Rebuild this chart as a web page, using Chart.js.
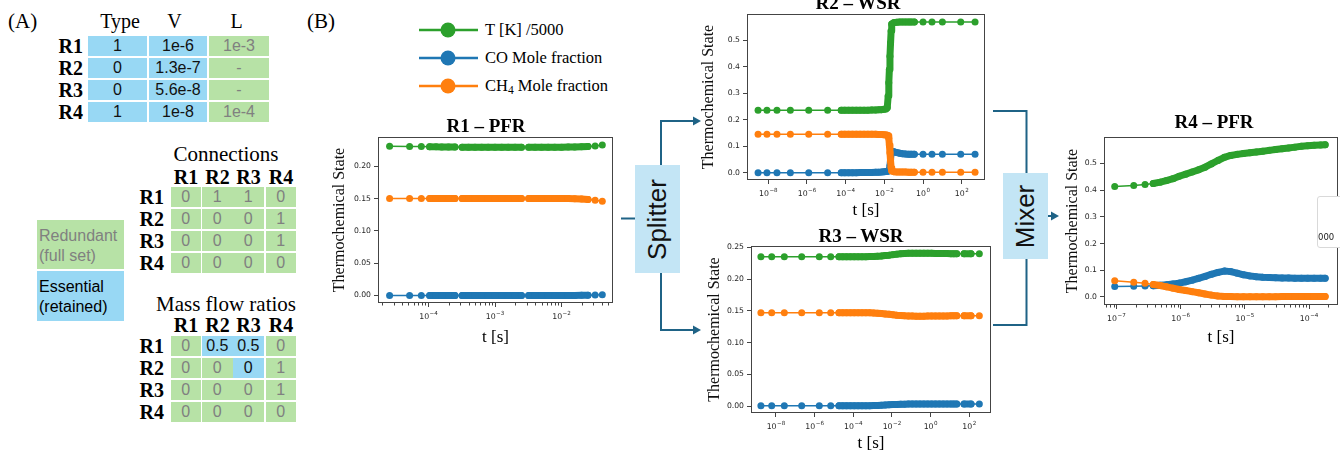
<!DOCTYPE html>
<html lang="en">
<head>
<meta charset="utf-8">
<title>Reactor network</title>
<script src="https://cdn.jsdelivr.net/npm/chart.js@4.4.1/dist/chart.umd.min.js"></script>
<style>
  html, body { margin: 0; padding: 0; background: #fff; }
  body { position: relative; width: 1340px; height: 455px; overflow: hidden; font-family: 'Liberation Sans', Arial, sans-serif; }
  .t  { position: absolute; white-space: nowrap; line-height: 1; transform: translate(-50%, -50%); }
  .tr { position: absolute; white-space: nowrap; line-height: 1; transform: translate(-100%, -50%); }
  .serif { font-family: 'Liberation Serif', 'Times New Roman', serif; color: #000; }
  .bold { font-weight: bold; }
  .cell { position: absolute; display: flex; align-items: center; justify-content: center; font-size: 16px; line-height: 1; }
  .ess { background: #98d8f4; color: #111; }
  .red { background: #b7e2a6; color: #808080; }
  .key { position: absolute; left: 37px; width: 87px; padding: 6px 0 0 2px; font-size: 16px; line-height: 20px; box-sizing: border-box; }
  .unit { position: absolute; background: #c3e5f5; display: flex; align-items: center; justify-content: center; }
  .unit span { transform: rotate(-90deg); font-size: 26px; color: #111; white-space: nowrap; }
  canvas { position: absolute; }
  sub { font-size: 0.7em; vertical-align: -0.3em; line-height: 0; }
</style>
</head>
<body>
<svg id="flow" width="1340" height="455" style="position:absolute;left:0;top:0"></svg>
<script>
// ── Panel A: reactor table data ───────────────────
const reactors = ['R1', 'R2', 'R3', 'R4'];
const reactorParams = ['Type', 'V', 'L'];
const reactorType = ['1', '0', '0', '1'];
const reactorVolume = ['1e-6', '1.3e-7', '5.6e-8', '1e-8'];
const reactorLength = ['1e-3', '-', '-', '1e-4'];
const connections = [[0, 1, 1, 0], [0, 0, 0, 1], [0, 0, 0, 1], [0, 0, 0, 0]];
const massFlowRatios = [['0', '0.5', '0.5', '0'], ['0', '0', '0', '1'], ['0', '0', '0', '1'], ['0', '0', '0', '0']];
const massFlowRetained = [[0, 1, 1, 0], [0, 0, 1, 0], [0, 0, 0, 0], [0, 0, 0, 0]];

// ── Panel B: series ───────────────────────────────
const seriesNames = ['T [K] /5000', 'CO Mole fraction', 'CH₄ Mole fraction'];

const r1Time = [2.6e-5, 5.2e-5, 7.8e-5, 1.04e-4, 1.3e-4, 1.58e-4, 2.0e-4, 2.5e-4, 3.2e-4, 4.0e-4,
                5.0e-4, 6.3e-4, 7.9e-4, 1.0e-3, 1.26e-3, 1.58e-3, 2.0e-3, 2.5e-3, 3.2e-3, 4.0e-3,
                5.0e-3, 6.3e-3, 7.9e-3, 1.0e-2, 1.26e-2, 1.58e-2, 2.0e-2, 2.5e-2, 3.2e-2, 4.1e-2];
const r1Temp = [0.2312, 0.2309, 0.2306, 0.2304, 0.2302, 0.2301, 0.2300, 0.2299, 0.2298, 0.2298,
                0.2297, 0.2297, 0.2297, 0.2297, 0.2297, 0.2297, 0.2297, 0.2297, 0.2297, 0.2297,
                0.2297, 0.2298, 0.2298, 0.2298, 0.2299, 0.2300, 0.2303, 0.2308, 0.2316, 0.2330];
const r1CO = [0, 0, 0, 0, 0, 0, 0, 0, 0, 0,
              0, 0, 0, 0, 0, 0, 0, 0, 0, 0,
              0, 0, 0, 0, 0, 0.0001, 0.0002, 0.0004, 0.0006, 0.0009];
const r1CH4 = [0.1503, 0.1503, 0.1503, 0.1503, 0.1503, 0.1503, 0.1503, 0.1503, 0.1503, 0.1503,
               0.1503, 0.1503, 0.1503, 0.1503, 0.1503, 0.1503, 0.1503, 0.1503, 0.1503, 0.1503,
               0.1503, 0.1502, 0.1502, 0.1502, 0.1501, 0.1500, 0.1495, 0.1487, 0.1476, 0.1460];
const r1XTicks = [1e-4, 1e-3, 1e-2];
const r1YTicks = [0, 0.05, 0.10, 0.15, 0.20];

const r2Time = [2.95e-9, 8.5e-9, 2.8e-8, 1.38e-7, 1.23e-6, 1.17e-5, 5.9e-5, 8.9e-5, 1.41e-4, 2.24e-4,
                3.55e-4, 5.6e-4, 8.9e-4, 1.41e-3, 2.24e-3, 3.55e-3, 5.0e-3, 7.1e-3, 9.5e-3, 1.2e-2,
                1.41e-2, 1.58e-2, 1.7e-2, 1.82e-2, 1.95e-2, 2.09e-2, 2.24e-2, 2.4e-2, 3.16e-2, 4.47e-2,
                6.3e-2, 8.9e-2, 0.126, 0.178, 0.24, 0.355, 1.0, 2.9, 10, 89, 490];
const r2Temp = [0.2357, 0.2357, 0.2357, 0.2357, 0.2357, 0.2357, 0.2357, 0.2357, 0.2357, 0.2358,
                0.2358, 0.2359, 0.2360, 0.2362, 0.2365, 0.2369, 0.2374, 0.2382, 0.2393, 0.2410,
                0.2450, 0.290, 0.340, 0.390, 0.440, 0.490, 0.535, 0.562, 0.567, 0.5685,
                0.569, 0.569, 0.569, 0.569, 0.569, 0.569, 0.569, 0.569, 0.569, 0.569, 0.569];
const r2CO = [0, 0, 0, 0, 0, 0, 0.0001, 0.0001, 0.0001, 0.0002,
              0.0002, 0.0003, 0.0005, 0.0007, 0.0010, 0.0014, 0.0019, 0.0026, 0.0034, 0.0043,
              0.0052, 0.0060, 0.0080, 0.0120, 0.0250, 0.0500, 0.0750, 0.0810, 0.0790, 0.0760,
              0.0735, 0.0718, 0.0707, 0.0700, 0.0697, 0.0696, 0.0695, 0.0695, 0.0695, 0.0695, 0.0695];
const r2CH4 = [0.1455, 0.1455, 0.1455, 0.1455, 0.1455, 0.1455, 0.1455, 0.1455, 0.1455, 0.1455,
               0.1454, 0.1454, 0.1453, 0.1452, 0.1450, 0.1448, 0.1445, 0.1441, 0.1436, 0.1428,
               0.1418, 0.1400, 0.1300, 0.1050, 0.0750, 0.0450, 0.0200, 0.0070, 0.0035, 0.0028,
               0.0025, 0.0023, 0.0022, 0.0021, 0.0021, 0.0020, 0.0020, 0.0020, 0.0020, 0.0020, 0.0020];
const r2XTicks = [1e-8, 1e-6, 1e-4, 1e-2, 1, 100];
const r2YTicks = [0, 0.1, 0.2, 0.3, 0.4, 0.5];

const r3Time = [1.66e-9, 6.0e-9, 2.7e-8, 2.14e-7, 1.74e-6, 6.8e-6, 1.82e-5, 2.82e-5, 4.47e-5, 7.1e-5,
                1.12e-4, 1.78e-4, 2.82e-4, 4.47e-4, 7.1e-4, 1.12e-3, 1.78e-3, 2.82e-3, 4.47e-3, 7.1e-3,
                1.12e-2, 1.78e-2, 2.82e-2, 4.47e-2, 7.1e-2, 0.112, 0.178, 0.282, 0.447, 0.708,
                1.12, 1.78, 2.82, 4.47, 7.08, 11.2, 15.8, 22.4, 53.7, 123, 331];
const r3Temp = [0.2351, 0.2351, 0.2351, 0.2351, 0.2351, 0.2351, 0.2351, 0.2351, 0.2351, 0.2351,
                0.2351, 0.2351, 0.2351, 0.2351, 0.2353, 0.2356, 0.2360, 0.2364, 0.2370, 0.2376,
                0.2384, 0.2392, 0.2398, 0.2402, 0.2404, 0.2405, 0.2405, 0.2405, 0.2405, 0.2405,
                0.2404, 0.2403, 0.2402, 0.2401, 0.2400, 0.2399, 0.2398, 0.2398, 0.2397, 0.2397, 0.2397];
const r3CO = [0.0005, 0.0005, 0.0005, 0.0005, 0.0005, 0.0005, 0.0005, 0.0005, 0.0005, 0.0005,
              0.0005, 0.0005, 0.0005, 0.0005, 0.0006, 0.0008, 0.0010, 0.0013, 0.0016, 0.0019,
              0.0022, 0.0025, 0.0027, 0.0029, 0.0030, 0.0030, 0.0030, 0.0030, 0.0030, 0.0030,
              0.0030, 0.0030, 0.0030, 0.0030, 0.0030, 0.0030, 0.0030, 0.0030, 0.0030, 0.0030, 0.0030];
const r3CH4 = [0.1470, 0.1470, 0.1470, 0.1470, 0.1470, 0.1470, 0.1470, 0.1470, 0.1470, 0.1470,
               0.1470, 0.1470, 0.1470, 0.1470, 0.1468, 0.1465, 0.1461, 0.1456, 0.1450, 0.1444,
               0.1438, 0.1431, 0.1426, 0.1421, 0.1418, 0.1416, 0.1415, 0.1415, 0.1415, 0.1416,
               0.1416, 0.1417, 0.1418, 0.1419, 0.1419, 0.1420, 0.1420, 0.1421, 0.1421, 0.1421, 0.1421];
const r3XTicks = [1e-8, 1e-6, 1e-4, 1e-2, 1, 100];
const r3YTicks = [0, 0.05, 0.10, 0.15, 0.20, 0.25];

const r4Time = [9.4e-8, 1.86e-7, 2.79e-7, 3.75e-7, 4.8e-7, 6.0e-7, 7.6e-7, 9.5e-7, 1.2e-6, 1.51e-6,
                1.9e-6, 2.4e-6, 3.0e-6, 3.8e-6, 4.8e-6, 6.0e-6, 7.6e-6, 9.5e-6, 1.2e-5, 1.51e-5,
                1.9e-5, 2.4e-5, 3.0e-5, 3.8e-5, 4.8e-5, 6.0e-5, 7.6e-5, 9.5e-5, 1.2e-4, 1.51e-4, 1.78e-4];
const r4Temp = [0.414, 0.417, 0.421, 0.425, 0.430, 0.436, 0.443, 0.452, 0.460, 0.468,
                0.476, 0.486, 0.498, 0.511, 0.523, 0.530, 0.534, 0.537, 0.540, 0.543,
                0.546, 0.549, 0.552, 0.555, 0.558, 0.561, 0.564, 0.566, 0.568, 0.569, 0.570];
const r4CO = [0.039, 0.040, 0.041, 0.042, 0.044, 0.046, 0.049, 0.052, 0.057, 0.063,
              0.070, 0.077, 0.085, 0.092, 0.097, 0.095, 0.089, 0.083, 0.079, 0.076,
              0.074, 0.073, 0.072, 0.071, 0.071, 0.0705, 0.070, 0.070, 0.070, 0.070, 0.070];
const r4CH4 = [0.061, 0.055, 0.051, 0.047, 0.043, 0.038, 0.033, 0.028, 0.024, 0.020,
               0.016, 0.011, 0.007, 0.004, 0.002, 0.0015, 0.0012, 0.0011, 0.0011, 0.0011,
               0.0012, 0.0012, 0.0013, 0.0014, 0.0015, 0.0016, 0.0017, 0.0018, 0.0019, 0.0020, 0.0020];
const r4XTicks = [1e-7, 1e-6, 1e-5, 1e-4];
const r4YTicks = [0, 0.1, 0.2, 0.3, 0.4, 0.5];

// ── Styling ───────────────────────────────────────
const COLORS = {
    temp: '#2ca02c',
    co: '#1f77b4',
    ch4: '#ff7f0e',
    frame: '#444444',
    tick: '#262626',
    flow: '#1f6386'
};
const SERIF = "'Liberation Serif', 'Times New Roman', serif";
const TICK_FONT = "'DejaVu Sans', sans-serif";

function exponentOf(v) {
    return String(Math.round(Math.log10(v)));
}

// ── Small DOM helpers ─────────────────────────────
function addText(x, y, html, cls, css) {
    const d = document.createElement('div');
    d.className = cls;
    d.style.cssText = `left:${x}px;top:${y}px;` + (css || '');
    d.innerHTML = html;
    document.body.appendChild(d);
    return d;
}
function addCell(x, y, w, h, text, essential) {
    const d = document.createElement('div');
    d.className = 'cell ' + (essential ? 'ess' : 'red');
    d.style.cssText = `left:${x}px;top:${y}px;width:${w}px;height:${h}px;`;
    d.textContent = text;
    document.body.appendChild(d);
}

// ── Panel A ───────────────────────────────────────
addText(8, 21, '(A)', 'serif', 'position:absolute;font-size:21px;line-height:1;transform:translateY(-50%);');
addText(307, 21, '(B)', 'serif', 'position:absolute;font-size:21px;line-height:1;transform:translateY(-50%);');

const paramCols = [88, 149, 209];
const paramHeadX = [120, 174.5, 236.5];
const paramRows = [36, 58, 80, 102];
reactorParams.forEach((p, j) => addText(paramHeadX[j], 21, p, 't serif', 'font-size:20px;'));
reactors.forEach((r, i) => {
    addText(83, paramRows[i] + 10, r, 'tr serif bold', 'font-size:20px;');
    addCell(paramCols[0], paramRows[i], 59, 20, reactorType[i], true);
    addCell(paramCols[1], paramRows[i], 58, 20, reactorVolume[i], true);
    addCell(paramCols[2], paramRows[i], 60, 20, reactorLength[i], false);
});

const matCols = [170.5, 202, 233, 265.5];
function drawMatrix(title, titleY, headY, rowsTop, values, retained) {
    addText(226, titleY, title, 't serif', 'font-size:21px;');
    reactors.forEach((r, j) => addText(matCols[j] + 15.5, headY, r, 't serif bold', 'font-size:20px;'));
    reactors.forEach((r, i) => {
        addText(164, rowsTop + i * 22 + 10, r, 'tr serif bold', 'font-size:20px;');
        reactors.forEach((c, j) => addCell(matCols[j], rowsTop + i * 22, 30.5, 20, String(values[i][j]), retained[i][j] === 1));
    });
}
drawMatrix('Connections', 154, 177, 187, connections, [[0,0,0,0],[0,0,0,0],[0,0,0,0],[0,0,0,0]]);
drawMatrix('Mass flow ratios', 303.5, 325, 336, massFlowRatios, massFlowRetained);

addText(0, 0, 'Redundant<br>(full set)', 'key red', 'left:37px;top:220px;height:49px;');
addText(0, 0, 'Essential<br>(retained)', 'key ess', 'left:37px;top:271px;height:50px;color:#000;');

// ── Panel B: figure legend ────────────────────────
const seriesColors = [COLORS.temp, COLORS.co, COLORS.ch4];
const legendRowY = [30, 58, 86];
seriesNames.forEach((name, i) => {
    const c = seriesColors[i];
    const row = document.createElement('div');
    row.style.cssText = `position:absolute;left:419px;top:${legendRowY[i] - 10}px;height:20px;width:220px;`;
    row.innerHTML =
        `<svg width="60" height="20" style="position:absolute;left:0;top:0">` +
        `<line x1="0" y1="10" x2="59" y2="10" stroke="${c}" stroke-width="2.7"/>` +
        `<circle cx="29" cy="10" r="7.5" fill="${c}"/></svg>` +
        `<span class="serif" style="position:absolute;left:66px;top:10px;transform:translateY(-50%);font-size:16.5px;line-height:1;white-space:nowrap">` +
        name.replace('₄', '<sub>4</sub>') + `</span>`;
    document.body.appendChild(row);
});

// ── Splitter / mixer and flow arrows ──────────────
function addUnit(x, y, w, h, label) {
    const d = document.createElement('div');
    d.className = 'unit';
    d.style.cssText = `left:${x}px;top:${y}px;width:${w}px;height:${h}px;`;
    d.innerHTML = `<span>${label}</span>`;
    document.body.appendChild(d);
}
addUnit(635, 165, 45, 108, 'Splitter');
addUnit(1003, 173, 45, 86, 'Mixer');

document.getElementById('flow').innerHTML = `
  <g fill="none" stroke="${COLORS.flow}" stroke-width="2">
    <path d="M621 218.5 H635"/>
    <path d="M661 165 V121 H695"/>
    <path d="M661 273 V330 H695"/>
    <path d="M993 111 H1026.5 V173"/>
    <path d="M1026.5 259 V325 H993"/>
    <path d="M1048 216 H1052"/>
  </g>
  <g fill="${COLORS.flow}">
    <polygon points="693,116.5 701,121 693,125.5"/>
    <polygon points="693,325.5 701,330 693,334.5"/>
    <polygon points="1051,211.5 1059,216 1051,220.5"/>
  </g>`;

// ── Chart helpers ─────────────────────────────────
// Frame on all four sides, log minor ticks, and "10^n" tick labels with a raised exponent.
const framePlugin = {
    id: 'frame',
    afterDatasetsDraw(chart, args, opts) {
        const { ctx, chartArea: a } = chart;
        const sx = chart.scales.x;
        ctx.save();
        ctx.strokeStyle = COLORS.frame;
        ctx.lineWidth = 1;
        ctx.strokeRect(Math.round(a.left) + 0.5, Math.round(a.top) + 0.5,
                       Math.round(a.right - a.left) - 1, Math.round(a.bottom - a.top) - 1);
        if (opts.minor) {
            const lo = Math.floor(Math.log10(sx.min));
            const hi = Math.ceil(Math.log10(sx.max));
            ctx.beginPath();
            for (let e = lo; e <= hi; e++) {
                for (let k = 2; k <= 9; k++) {
                    const v = k * Math.pow(10, e);
                    if (v < sx.min || v > sx.max) continue;
                    const px = Math.round(sx.getPixelForValue(v)) + 0.5;
                    ctx.moveTo(px, Math.round(a.bottom));
                    ctx.lineTo(px, Math.round(a.bottom) + 2.5);
                }
            }
            ctx.stroke();
        }

        const base = `7.8px ${TICK_FONT}`;
        const small = `5.6px ${TICK_FONT}`;
        ctx.fillStyle = COLORS.tick;
        ctx.textBaseline = 'middle';
        ctx.textAlign = 'left';
        sx.ticks.forEach(t => {
            const x = sx.getPixelForValue(t.value);
            const ex = exponentOf(t.value).replace('-', '\u2212');
            ctx.font = base;
            const wb = ctx.measureText('10').width;
            ctx.font = small;
            const we = ctx.measureText(ex).width;
            const x0 = x - (wb + we + 0.5) / 2;
            ctx.font = base;
            ctx.fillText('10', x0, a.bottom + 14);
            ctx.font = small;
            ctx.fillText(ex, x0 + wb + 0.5, a.bottom + 10.3);
        });
        ctx.restore();
    }
};

function series(label, xs, ys, color, order) {
    return {
        label,
        order,
        data: xs.map((x, i) => ({ x, y: ys[i] })),
        borderColor: color,
        backgroundColor: color,
        pointBackgroundColor: color,
        borderWidth: 1.5,
        pointRadius: 3.5,
        pointBorderWidth: 0,
        tension: 0,
        borderCapStyle: 'round',
        borderJoinStyle: 'round',
        // closely packed samples merge into a solid band, as in the original plots
        segment: { borderWidth: ctx => (Math.abs(ctx.p1.x - ctx.p0.x) < 7 ? 7 : 1.5) }
    };
}

function buildPanel(id, box, p) {
    const canvas = document.createElement('canvas');
    canvas.id = id;
    canvas.width = box.width;
    canvas.height = box.height;
    canvas.style.left = box.left + 'px';
    canvas.style.top = box.top + 'px';
    document.body.appendChild(canvas);

    addText(p.titleX, p.titleY, p.title, 't serif bold', 'font-size:19px;');

    return new Chart(canvas, {
        type: 'line',
        data: {
            datasets: [
                series(seriesNames[0], p.time, p.temp, COLORS.temp, 3),
                series(seriesNames[1], p.time, p.co, COLORS.co, 2),
                series(seriesNames[2], p.time, p.ch4, COLORS.ch4, 1)
            ]
        },
        plugins: [framePlugin],
        options: {
            responsive: false,
            animation: false,
            events: [],
            layout: { padding: { left: 0, top: 12, right: box.padRight, bottom: 0 } },
            plugins: {
                legend: { display: false },
                tooltip: { enabled: false },
                title: { display: false },
                frame: { minor: p.minor }
            },
            scales: {
                x: {
                    type: 'logarithmic',
                    bounds: 'data',
                    min: p.xMin,
                    max: p.xMax,
                    afterBuildTicks: s => { s.ticks = p.xTicks.map(v => ({ value: v })); },
                    afterFit: s => { s.height = box.xAxisH; },
                    border: { display: false },
                    grid: { drawOnChartArea: false, drawTicks: true, tickLength: 4, tickColor: COLORS.frame, tickWidth: 1 },
                    ticks: {
                        display: false,
                        autoSkip: false,
                        callback: v => '10^' + exponentOf(v)
                    },
                    title: { display: true, text: 't [s]', color: '#000', font: { family: SERIF, size: 17 }, padding: 0 }
                },
                y: {
                    type: 'linear',
                    bounds: 'data',
                    min: p.yMin,
                    max: p.yMax,
                    afterBuildTicks: s => { s.ticks = p.yTicks.map(v => ({ value: v })); },
                    afterFit: s => { s.width = box.yAxisW; },
                    border: { display: false },
                    grid: { drawOnChartArea: false, drawTicks: true, tickLength: 4, tickColor: COLORS.frame, tickWidth: 1 },
                    ticks: {
                        autoSkip: false, padding: 3,
                        color: COLORS.tick,
                        font: { family: TICK_FONT, size: 7.7 },
                        callback: v => Number(v).toFixed(p.yDigits)
                    },
                    title: { display: true, text: 'Thermochemical State', color: '#111', font: { family: SERIF, size: 16 }, padding: 0 }
                }
            }
        }
    });
}

buildPanel('r1', { left: 330, top: 125, width: 287, height: 223, yAxisW: 48, xAxisH: 45, padRight: 4 }, {
    title: 'R1 – PFR', titleX: 486, titleY: 124.5, minor: true,
    time: r1Time, temp: r1Temp, co: r1CO, ch4: r1CH4,
    xMin: 1.74e-5, xMax: 5.94e-2, xTicks: r1XTicks,
    yMin: -0.0117, yMax: 0.2455, yTicks: r1YTicks, yDigits: 2
});
buildPanel('r2', { left: 699, top: 2, width: 290, height: 219, yAxisW: 48, xAxisH: 41, padRight: 4 }, {
    title: 'R2 – WSR', titleX: 858, titleY: 1.6, minor: false,
    time: r2Time, temp: r2Temp, co: r2CO, ch4: r2CH4,
    xMin: 7.9e-10, xMax: 1.6e3, xTicks: r2XTicks,
    yMin: -0.0276, yMax: 0.5995, yTicks: r2YTicks, yDigits: 1
});
buildPanel('r3', { left: 705, top: 234, width: 290, height: 220, yAxisW: 46, xAxisH: 41, padRight: 4 }, {
    title: 'R3 – WSR', titleX: 861, titleY: 235, minor: false,
    time: r3Time, temp: r3Temp, co: r3CO, ch4: r3CH4,
    xMin: 5.1e-10, xMax: 1.33e3, xTicks: r3XTicks,
    yMin: -0.011, yMax: 0.252, yTicks: r3YTicks, yDigits: 2
});
buildPanel('r4', { left: 1063, top: 125, width: 279, height: 223, yAxisW: 41, xAxisH: 43, padRight: 1 }, {
    title: 'R4 – PFR', titleX: 1214, titleY: 121.3, minor: true,
    time: r4Time, temp: r4Temp, co: r4CO, ch4: r4CH4,
    xMin: 6.4e-8, xMax: 2.82e-4, xTicks: r4XTicks,
    yMin: -0.030, yMax: 0.599, yTicks: r4YTicks, yDigits: 1
});

// clipped legend fragment visible at the right edge of R4
addText(1317, 196, '<span style="position:absolute;left:0;top:35px;font:8.5px \'DejaVu Sans\',sans-serif;color:#222">000</span>',
        '', 'position:absolute;width:30px;height:50px;border:1px solid #d9d9d9;border-radius:3px;background:#fff;');
</script>
</body>
</html>
